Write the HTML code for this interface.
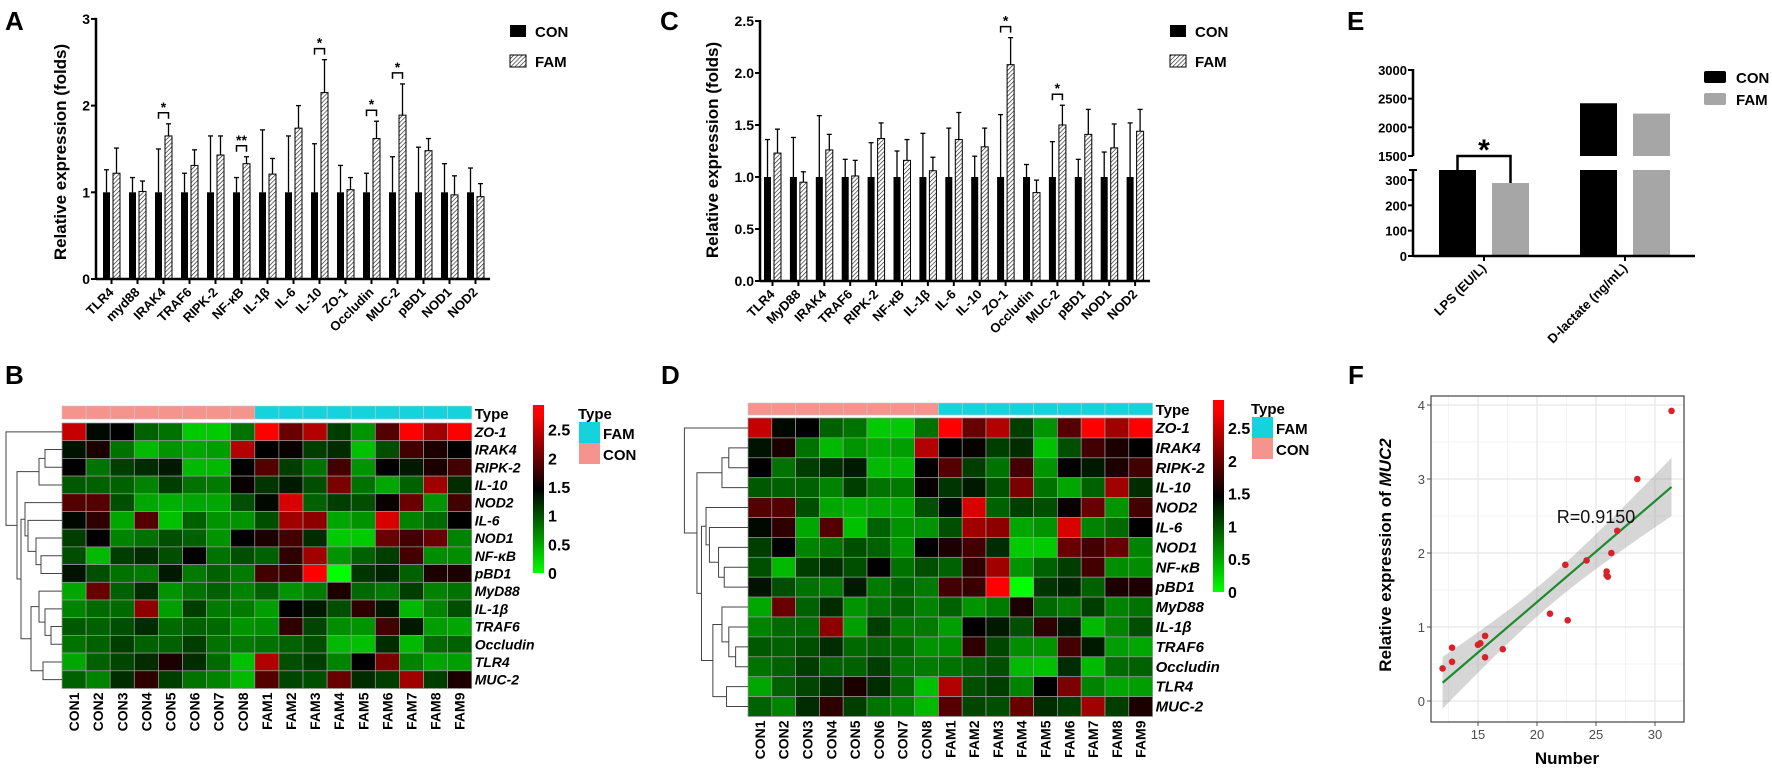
<!DOCTYPE html>
<html><head><meta charset="utf-8">
<style>
html,body{margin:0;padding:0;background:#fff;}
svg{display:block;font-family:"Liberation Sans",Arial,sans-serif;}
</style></head>
<body>
<svg id="fig" width="1772" height="770" viewBox="0 0 1772 770">
<defs>
<pattern id="hatch" patternUnits="userSpaceOnUse" width="3" height="3" patternTransform="rotate(45)">
<rect width="3" height="3" fill="#fff"/><line x1="0" y1="0" x2="0" y2="3" stroke="#222" stroke-width="1.3"/>
</pattern>
<linearGradient id="cbar" x1="0" y1="0" x2="0" y2="1">
<stop offset="0" stop-color="#ff0000"/><stop offset="0.05" stop-color="#ff0000"/>
<stop offset="0.5" stop-color="#000000"/><stop offset="1" stop-color="#00ff00"/>
</linearGradient>
</defs>
</svg>
<script>
// ---------- DATA ----------
const labelsA = ["TLR4","myd88","IRAK4","TRAF6","RIPK-2","NF-κB","IL-1β","IL-6","IL-10","ZO-1","Occludin","MUC-2","pBD1","NOD1","NOD2"];
const conA = [1,1,1,1,1,1,1,1,1,1,1,1,1,1,1];
const conErrA = [1.26,1.17,1.5,1.22,1.65,1.17,1.72,1.65,1.56,1.31,1.22,1.41,1.52,1.33,1.28];
const famA = [1.22,1.01,1.65,1.31,1.43,1.33,1.21,1.74,2.15,1.03,1.62,1.89,1.48,0.97,0.95];
const famErrA = [1.51,1.13,1.79,1.49,1.65,1.41,1.39,2.0,2.53,1.17,1.82,2.25,1.62,1.19,1.1];
const sigA = ["","","*","","","**","","","*","","*","*","","",""];
const ticksA = [0,1,2,3];

const labelsC = ["TLR4","MyD88","IRAK4","TRAF6","RIPK-2","NF-κB","IL-1β","IL-6","IL-10","ZO-1","Occludin","MUC-2","pBD1","NOD1","NOD2"];
const conC = [1,1,1,1,1,1,1,1,1,1,1,1,1,1,1];
const conErrC = [1.36,1.38,1.59,1.17,1.33,1.25,1.42,1.47,1.2,1.6,1.12,1.34,1.17,1.24,1.52];
const famC = [1.23,0.95,1.26,1.01,1.37,1.16,1.06,1.36,1.29,2.08,0.85,1.5,1.41,1.28,1.44];
const famErrC = [1.46,1.05,1.41,1.16,1.52,1.36,1.19,1.62,1.47,2.34,0.97,1.69,1.65,1.51,1.65];
const sigC = ["","","","","","","","","","*","","*","","",""];
const ticksC = [0,0.5,1.0,1.5,2.0,2.5];

const rowsH = ["ZO-1","IRAK4","RIPK-2","IL-10","NOD2","IL-6","NOD1","NF-κB","pBD1","MyD88","IL-1β","TRAF6","Occludin","TLR4","MUC-2"];
const colsH = ["CON1","CON2","CON3","CON4","CON5","CON6","CON7","CON8","FAM1","FAM2","FAM3","FAM4","FAM5","FAM6","FAM7","FAM8","FAM9"];
const typesH = ["CON","CON","CON","CON","CON","CON","CON","CON","FAM","FAM","FAM","FAM","FAM","FAM","FAM","FAM","FAM"];
const heat = [
[2.5,1.4,1.45,0.9,0.8,0.3,0.3,0.8,2.8,2.0,2.4,1.1,0.6,1.9,2.8,2.3,2.8],
[1.35,1.6,0.8,0.4,0.6,0.5,0.55,2.4,1.45,1.5,1.1,1.2,0.35,1.0,1.8,1.6,1.45],
[1.45,0.8,1.1,1.2,1.3,0.4,0.4,1.45,1.9,1.1,0.8,1.8,0.6,1.45,1.3,1.6,1.8],
[0.95,0.9,0.9,0.7,1.1,0.8,0.75,1.5,1.15,1.3,1.0,2.1,0.8,0.5,0.9,2.3,1.2],
[1.9,1.9,1.0,0.5,0.45,0.5,0.5,1.0,1.4,2.6,0.9,1.1,1.0,1.5,2.0,0.6,1.8],
[1.4,1.7,0.5,1.9,0.35,0.9,0.6,0.6,1.0,2.3,2.2,0.5,0.6,2.6,0.7,0.85,1.45],
[1.1,1.45,0.7,0.8,1.0,0.9,0.6,1.45,1.6,1.8,1.2,0.3,0.3,2.0,1.8,2.0,0.7],
[1.0,0.4,1.1,1.2,1.0,1.45,0.8,1.0,0.9,1.7,2.3,0.6,0.9,1.1,1.8,0.65,0.65],
[1.35,1.0,0.8,0.75,1.3,0.75,0.9,0.75,1.8,1.75,2.8,0.0,1.15,1.25,0.9,1.6,1.6],
[0.5,2.0,0.9,1.2,0.6,0.8,0.9,0.7,0.9,0.6,0.75,1.6,0.85,0.75,1.1,0.7,0.8],
[0.7,0.85,0.85,2.2,0.55,1.1,0.75,0.75,0.55,1.45,1.3,1.0,1.7,1.3,0.4,0.7,1.0],
[0.95,0.9,1.0,1.2,0.85,0.9,0.85,0.6,0.65,1.7,1.05,0.65,0.6,1.8,1.3,0.55,0.5],
[0.8,0.9,1.1,0.9,0.9,1.1,0.8,0.75,0.8,0.9,1.0,0.4,0.35,1.2,0.4,0.85,0.9],
[0.5,0.9,1.05,1.2,1.6,1.2,0.85,0.35,2.4,1.0,1.1,0.7,1.45,2.1,0.7,0.5,0.55],
[0.9,0.7,1.2,1.7,1.1,0.8,0.7,0.4,1.9,1.05,1.0,2.0,1.2,1.1,2.3,1.1,1.6]
];
const cbarTicks = [0,0.5,1,1.5,2,2.5];

const catsE = ["LPS (EU/L)","D-lactate (ng/mL)"];
const conE = [340,2420];
const famE = [288,2240];
const ticksEHigh = [1500,2000,2500,3000];
const ticksELow = [0,100,200,300];

const xF = [12,12.8,12.8,15,15.2,15.6,15.6,17.1,21.1,22.4,22.6,24.2,25.9,25.9,26,26.3,26.8,28.5,31.4];
const yF = [0.44,0.72,0.53,0.76,0.78,0.88,0.59,0.70,1.18,1.84,1.09,1.90,1.70,1.75,1.68,2.0,2.3,3.0,3.92];
const ticksFx = [15,20,25,30];
const ticksFy = [0,1,2,3,4];

// ---------- HELPERS ----------
const NS='http://www.w3.org/2000/svg';
const svg=document.getElementById('fig');
function mk(tag,attrs,parent){const e=document.createElementNS(NS,tag);for(const k in attrs)e.setAttribute(k,attrs[k]);(parent||svg).appendChild(e);return e;}
function txt(s,attrs,parent){const e=mk('text',attrs,parent);e.textContent=s;return e;}
function grp(name){const g=mk('g',{});return g;}

// panel letters
[["A",5,30],["C",660,30],["E",1347,30],["B",5,384],["D",661,384],["F",1348,384]].forEach(p=>{
  const t=txt(p[0],{x:p[1],y:p[2],'font-size':26,'font-weight':'bold'});
  
  
});

// ---------- BAR PANELS A / C ----------
function barPanel(cfg){
  const g=grp(cfg.name);
  const ys=v=>cfg.y0-v*cfg.unit;
  const n=cfg.labels.length;
  for(let i=0;i<n;i++){
    const xc=cfg.x0+i*cfg.step, xf=xc+cfg.famOff;
    const gc=mk('g',{},g);
    
    
    // error bars
    [[xc,cfg.con[i],cfg.conErr[i]],[xf,cfg.fam[i],cfg.famErr[i]]].forEach(b=>{
      const cx=b[0]+cfg.bw/2;
      const l=mk('line',{x1:cx,x2:cx,y1:ys(b[1]),y2:ys(b[2]),stroke:'#000','stroke-width':1.3},gc);
      
      
      mk('line',{x1:cx-2.5,x2:cx+2.5,y1:ys(b[2]),y2:ys(b[2]),stroke:'#000','stroke-width':1.3},gc);
    });
    const rc=mk('rect',{x:xc,y:ys(cfg.con[i]),width:cfg.bw,height:cfg.y0-ys(cfg.con[i]),fill:'#000'},gc);
    
    
    const rf=mk('rect',{x:xf,y:ys(cfg.fam[i]),width:cfg.bw,height:cfg.y0-ys(cfg.fam[i]),fill:'url(#hatch)',stroke:'#000','stroke-width':1},gc);
    
    
    if(cfg.sig[i]){
      const top=ys(Math.max(cfg.conErr[i],cfg.famErr[i]))-11;
      const a=xc+cfg.bw/2, b=xf+cfg.bw/2;
      const br=mk('path',{d:`M${a},${top+6}V${top}H${b}V${top+6}`,fill:'none',stroke:'#000','stroke-width':1.5},gc);
      
      
      const st=txt(cfg.sig[i],{x:(a+b)/2,y:top-1,'text-anchor':'middle','font-size':14,'font-weight':'bold'},gc);
      
      
    }
    // x tick and label
    const tx=(xc+xf+cfg.bw)/2;
    mk('line',{x1:tx,x2:tx,y1:cfg.y0,y2:cfg.y0+5,stroke:'#000','stroke-width':2},g);
    const lb=txt(cfg.labels[i],{x:tx+3,y:cfg.y0+14,'text-anchor':'end','font-size':13,'font-weight':'bold',transform:`rotate(-45 ${tx+3} ${cfg.y0+14})`},g);
    
    
  }
  // axes
  const ya=mk('line',{x1:cfg.axisX,x2:cfg.axisX,y1:ys(cfg.ticks[cfg.ticks.length-1])-1,y2:cfg.y0+1,stroke:'#000','stroke-width':2.5},g);
  
  
  const xa=mk('line',{x1:cfg.axisX,x2:cfg.axisEnd,y1:cfg.y0,y2:cfg.y0,stroke:'#000','stroke-width':2.5},g);
  
  
  cfg.ticks.forEach(t=>{
    mk('line',{x1:cfg.axisX-5,x2:cfg.axisX,y1:ys(t),y2:ys(t),stroke:'#000','stroke-width':2},g);
    const tl=txt(cfg.fmt(t),{x:cfg.axisX-6,y:ys(t)+5,'text-anchor':'end','font-size':14,'font-weight':'bold'},g);
    
    
  });
  const yl=txt('Relative expression (folds)',{x:cfg.ylX,y:cfg.ylY,'text-anchor':'middle','font-size':17,'font-weight':'bold',transform:`rotate(-90 ${cfg.ylX} ${cfg.ylY})`},g);
  
  
  // legend
  const l1=mk('rect',{x:cfg.legX,y:25,width:16,height:12,fill:'#000'},g);
  
  
  const t1=txt('CON',{x:cfg.legX+25,y:37,'font-size':15,'font-weight':'bold'},g);
  
  
  const l2=mk('rect',{x:cfg.legX,y:55,width:16,height:12,fill:'url(#hatch)',stroke:'#000','stroke-width':1},g);
  
  
  const t2=txt('FAM',{x:cfg.legX+25,y:67,'font-size':15,'font-weight':'bold'},g);
  
  
}
barPanel({name:'panel-a-chart',labels:labelsA,con:conA,conErr:conErrA,fam:famA,famErr:famErrA,sig:sigA,ticks:ticksA,fmt:t=>String(t),
  x0:103,step:26,bw:7,famOff:10,y0:279,unit:86.7,axisX:96,axisEnd:490,ylX:66,ylY:152,legX:510});
barPanel({name:'panel-c-chart',labels:labelsC,con:conC,conErr:conErrC,fam:famC,famErr:famErrC,sig:sigC,ticks:ticksC,fmt:t=>t.toFixed(1),
  x0:764,step:25.9,bw:7,famOff:10,y0:281,unit:104,axisX:760,axisEnd:1150,ylX:718,ylY:150,legX:1170});

// ---------- HEATMAPS B / D ----------
function heatColor(v){
  if(v<=1.45){const g=Math.round(255*(1-v/1.45));return `rgb(0,${g},0)`;}
  const r=Math.min(255,Math.round(255*(v-1.45)/1.35));return `rgb(${r},0,0)`;
}
// dendrogram structure: [left,right,x-offset from dendrogram left] (leaves = row index)
const tree=[0,[[[1,2,42],3,36],[[4,[5,[6,[7,8,38],33],25],22],[[9,[10,[11,12,48],42],36],[13,14,40],28],18],14],3];
function heatPanel(cfg){
  const g=grp(cfg.name);
  const nR=rowsH.length,nC=colsH.length;
  // type bar
  for(let j=0;j<nC;j++){
    const r=mk('rect',{x:cfg.x0+j*cfg.cw,y:cfg.ty,width:cfg.cw,height:cfg.th,fill:typesH[j]==='CON'?'#f4948c':'#14d3dc',stroke:'#c9c9c9','stroke-width':0.6},g);
    
    
  }
  const tl=txt('Type',{x:cfg.x0+nC*cfg.cw+3,y:cfg.ty+cfg.th,'font-size':15,'font-weight':'bold'},g);
  
  
  for(let i=0;i<nR;i++){
    for(let j=0;j<nC;j++){
      const c=mk('rect',{x:cfg.x0+j*cfg.cw,y:cfg.y0+i*cfg.ch,width:cfg.cw,height:cfg.ch,fill:heatColor(heat[i][j]),stroke:'#9a9a9a','stroke-width':0.7},g);
      
      
    }
    const rl=txt(rowsH[i],{x:cfg.x0+nC*cfg.cw+3,y:cfg.y0+(i+0.5)*cfg.ch+5,'font-size':cfg.fs,'font-weight':'bold','font-style':'italic'},g);
    
    
  }
  for(let j=0;j<nC;j++){
    const cx=cfg.x0+(j+0.5)*cfg.cw+5, yy=cfg.y0+nR*cfg.ch+4;
    const cl=txt(colsH[j],{x:cx,y:yy,'text-anchor':'end','font-size':14,'font-weight':'bold',transform:`rotate(-90 ${cx} ${yy})`},g);
    
    
  }
  // dendrogram
  const dg=mk('g',{},g);
  
  
  const sc=cfg.dw/58;
  function walk(n){
    if(typeof n==='number') return {y:cfg.y0+(n+0.5)*cfg.ch,x:cfg.x0};
    const a=walk(n[0]),b=walk(n[1]);const x=cfg.dx+n[2]*sc;
    mk('path',{d:`M${a.x},${a.y}H${x}V${b.y}H${b.x}`,fill:'none',stroke:'#444','stroke-width':1},dg);
    return {y:(a.y+b.y)/2,x:x};
  }
  walk(tree);
  // colorbar
  const cb=mk('rect',{x:cfg.cbx,y:cfg.cby,width:11,height:cfg.cbh,fill:'url(#cbar)'},g);
  
  
  const vmax=2.93;
  cbarTicks.forEach(t=>{
    const y=cfg.cby+cfg.cbh*(1-t/vmax);
    const l=txt(String(t),{x:cfg.cbx+15,y:y+6,'font-size':16,'font-weight':'bold'},g);
    
    
  });
  const lx=cfg.legx;
  const lt=txt('Type',{x:lx,y:cfg.cby+14,'font-size':15,'font-weight':'bold'},g);
  
  
  const f1=mk('rect',{x:lx+1,y:cfg.cby+17,width:21,height:21,fill:'#14d3dc'},g);
  
  
  const f2=txt('FAM',{x:lx+25,y:cfg.cby+34,'font-size':15,'font-weight':'bold'},g);
  
  
  const c1=mk('rect',{x:lx+1,y:cfg.cby+38,width:21,height:21,fill:'#f4948c'},g);
  
  
  const c2=txt('CON',{x:lx+25,y:cfg.cby+55,'font-size':15,'font-weight':'bold'},g);
  
  
}
heatPanel({name:'panel-b-heatmap',x0:62,cw:24.1,y0:423,ch:17.7,ty:406,th:13,fs:14,dx:3,dw:58,cbx:533,cby:405,cbh:168,legx:578});
heatPanel({name:'panel-d-heatmap',x0:748,cw:23.8,y0:418,ch:19.9,ty:403,th:12,fs:15,dx:681,dw:66,cbx:1213,cby:400,cbh:192,legx:1251});

// ---------- PANEL E ----------
(function(){
  const g=grp('panel-e-chart');
  const ax=1413, y0=256, lowTop=170, hiBot=156, hiTop=70;
  const yl=v=>y0-v*((y0-180)/300);
  const yh=v=>hiBot-(v-1500)*((hiBot-hiTop)/1500);
  const lowMax=(y0-lowTop)/((y0-180)/300);
  const cx=[1439,1580], bw=37, off=53;
  function bar(x,v,fill,name){
    if(v>1500){
      const a=mk('rect',{x:x,y:yh(v),width:bw,height:hiBot-yh(v),fill:fill},g);
      
      
      const b=mk('rect',{x:x,y:lowTop,width:bw,height:y0-lowTop,fill:fill},g);
      
      
    } else {
      const vv=Math.min(v,lowMax);
      const b=mk('rect',{x:x,y:yl(vv),width:bw,height:y0-yl(vv),fill:fill},g);
      
      
    }
  }
  for(let i=0;i<catsE.length;i++){
    bar(cx[i],conE[i],'#000','bar-con-'+i);
    bar(cx[i]+off,famE[i],'#a6a6a6','bar-fam-'+i);
    const tx=cx[i]+(off+bw)/2;
    mk('line',{x1:tx,x2:tx,y1:y0,y2:y0+5,stroke:'#000','stroke-width':2},g);
    const l=txt(catsE[i],{x:tx+3,y:y0+13,'text-anchor':'end','font-size':13,'font-weight':'bold',transform:`rotate(-45 ${tx+3} ${y0+13})`},g);
    
    
  }
  const a1=mk('line',{x1:ax,x2:ax,y1:hiTop-1,y2:hiBot,stroke:'#000','stroke-width':2.5},g);
  
  
  const a2=mk('line',{x1:ax,x2:ax,y1:lowTop,y2:y0+1,stroke:'#000','stroke-width':2.5},g);
  
  
  mk('line',{x1:ax-4,x2:ax+4,y1:lowTop,y2:lowTop,stroke:'#000','stroke-width':2},g);
  const xa=mk('line',{x1:ax,x2:1695,y1:y0,y2:y0,stroke:'#000','stroke-width':2.5},g);
  
  
  ticksEHigh.forEach(t=>{
    mk('line',{x1:ax-5,x2:ax,y1:yh(t),y2:yh(t),stroke:'#000','stroke-width':2},g);
    const l=txt(String(t),{x:ax-6,y:yh(t)+5,'text-anchor':'end','font-size':13,'font-weight':'bold'},g);
    
    
  });
  ticksELow.forEach(t=>{
    mk('line',{x1:ax-5,x2:ax,y1:yl(t),y2:yl(t),stroke:'#000','stroke-width':2},g);
    const l=txt(String(t),{x:ax-6,y:yl(t)+5,'text-anchor':'end','font-size':13,'font-weight':'bold'},g);
    
    
  });
  // significance
  const a=cx[0]+bw/2, b=cx[0]+off+bw/2;
  const ya=yl(Math.min(conE[0],lowMax)), yb=yl(Math.min(famE[0],lowMax));
  const br=mk('path',{d:`M${a},${ya}V${hiBot}H${b}V${yb}`,fill:'none',stroke:'#000','stroke-width':2.5},g);
  
  
  const st=txt('*',{x:(a+b)/2,y:hiBot+4,'text-anchor':'middle','font-size':30,'font-weight':'bold'},g);
  
  
  const r1=mk('rect',{x:1704,y:71,width:22,height:12,rx:2,fill:'#000'},g);
  
  
  const t1=txt('CON',{x:1736,y:83,'font-size':15,'font-weight':'bold'},g);
  
  
  const r2=mk('rect',{x:1704,y:93,width:22,height:12,rx:2,fill:'#a6a6a6'},g);
  
  
  const t2=txt('FAM',{x:1736,y:105,'font-size':15,'font-weight':'bold'},g);
  
  
})();

// ---------- PANEL F ----------
(function(){
  const g=grp('panel-f-scatter');
  const L=1431,R=1684,T=396,B=722;
  const sx=v=>1478+(v-15)*11.8;
  const sy=v=>701-v*74;
  const bg=mk('rect',{x:L,y:T,width:R-L,height:B-T,fill:'#fff'},g);
  
  
  for(let v=12.5;v<=32.5;v+=5) mk('line',{x1:sx(v),x2:sx(v),y1:T,y2:B,stroke:'#f3f3f3','stroke-width':1},g);
  for(let v=-0.5;v<=4.5;v+=1) if(sy(v)>T&&sy(v)<B) mk('line',{x1:L,x2:R,y1:sy(v),y2:sy(v),stroke:'#f3f3f3','stroke-width':1},g);
  ticksFx.forEach(t=>{
    const gl=mk('line',{x1:sx(t),x2:sx(t),y1:T,y2:B,stroke:'#e6e6e6','stroke-width':1.2},g);
    
    
    mk('line',{x1:sx(t),x2:sx(t),y1:B,y2:B+4,stroke:'#555','stroke-width':1},g);
    const l=txt(String(t),{x:sx(t),y:B+17,'text-anchor':'middle','font-size':13,fill:'#4d4d4d'},g);
    
    
  });
  ticksFy.forEach(t=>{
    const gl=mk('line',{x1:L,x2:R,y1:sy(t),y2:sy(t),stroke:'#e6e6e6','stroke-width':1.2},g);
    
    
    mk('line',{x1:L-4,x2:L,y1:sy(t),y2:sy(t),stroke:'#555','stroke-width':1},g);
    const l=txt(String(t),{x:L-6,y:sy(t)+5,'text-anchor':'end','font-size':13,fill:'#4d4d4d'},g);
    
    
  });
  // regression + CI
  const n=xF.length;
  const mx=xF.reduce((a,b)=>a+b,0)/n, my=yF.reduce((a,b)=>a+b,0)/n;
  let sxx=0,sxy=0;for(let i=0;i<n;i++){sxx+=(xF[i]-mx)**2;sxy+=(xF[i]-mx)*(yF[i]-my);}
  const slope=sxy/sxx, icp=my-slope*mx;
  let sse=0;for(let i=0;i<n;i++){sse+=(yF[i]-(icp+slope*xF[i]))**2;}
  const s=Math.sqrt(sse/(n-2)), tq=2.11;
  const x1=Math.min(...xF), x2=Math.max(...xF);
  const up=[],lo=[];
  for(let k=0;k<=40;k++){
    const x=x1+(x2-x1)*k/40, f=icp+slope*x, se=s*Math.sqrt(1/n+(x-mx)**2/sxx);
    up.push(sx(x)+','+sy(f+tq*se)); lo.unshift(sx(x)+','+sy(f-tq*se));
  }
  const band=mk('polygon',{points:up.concat(lo).join(' '),fill:'#999','fill-opacity':0.4},g);
  
  
  const ln=mk('line',{x1:sx(x1),y1:sy(icp+slope*x1),x2:sx(x2),y2:sy(icp+slope*x2),stroke:'#1e8a2e','stroke-width':2.2},g);
  
  
  for(let i=0;i<n;i++){
    const c=mk('circle',{cx:sx(xF[i]),cy:sy(yF[i]),r:3.3,fill:'#d8222a'},g);
    
    
  }
  const rt=txt('R=0.9150',{x:1596,y:523,'text-anchor':'middle','font-size':18,fill:'#111'},g);
  
  
  const bd=mk('rect',{x:L,y:T,width:R-L,height:B-T,fill:'none',stroke:'#444','stroke-width':1.2},g);
  
  
  const yl=mk('text',{x:1391,y:555,'text-anchor':'middle','font-size':17,'font-weight':'bold',transform:'rotate(-90 1391 555)'},g);
  
  
  yl.appendChild(document.createTextNode('Relative expression of '));
  const it=mk('tspan',{'font-style':'italic'},yl); it.textContent='MUC2';
  const xl=txt('Number',{x:1567,y:764,'text-anchor':'middle','font-size':17,'font-weight':'bold'},g);
  
  
})();
</script>
</body></html>
